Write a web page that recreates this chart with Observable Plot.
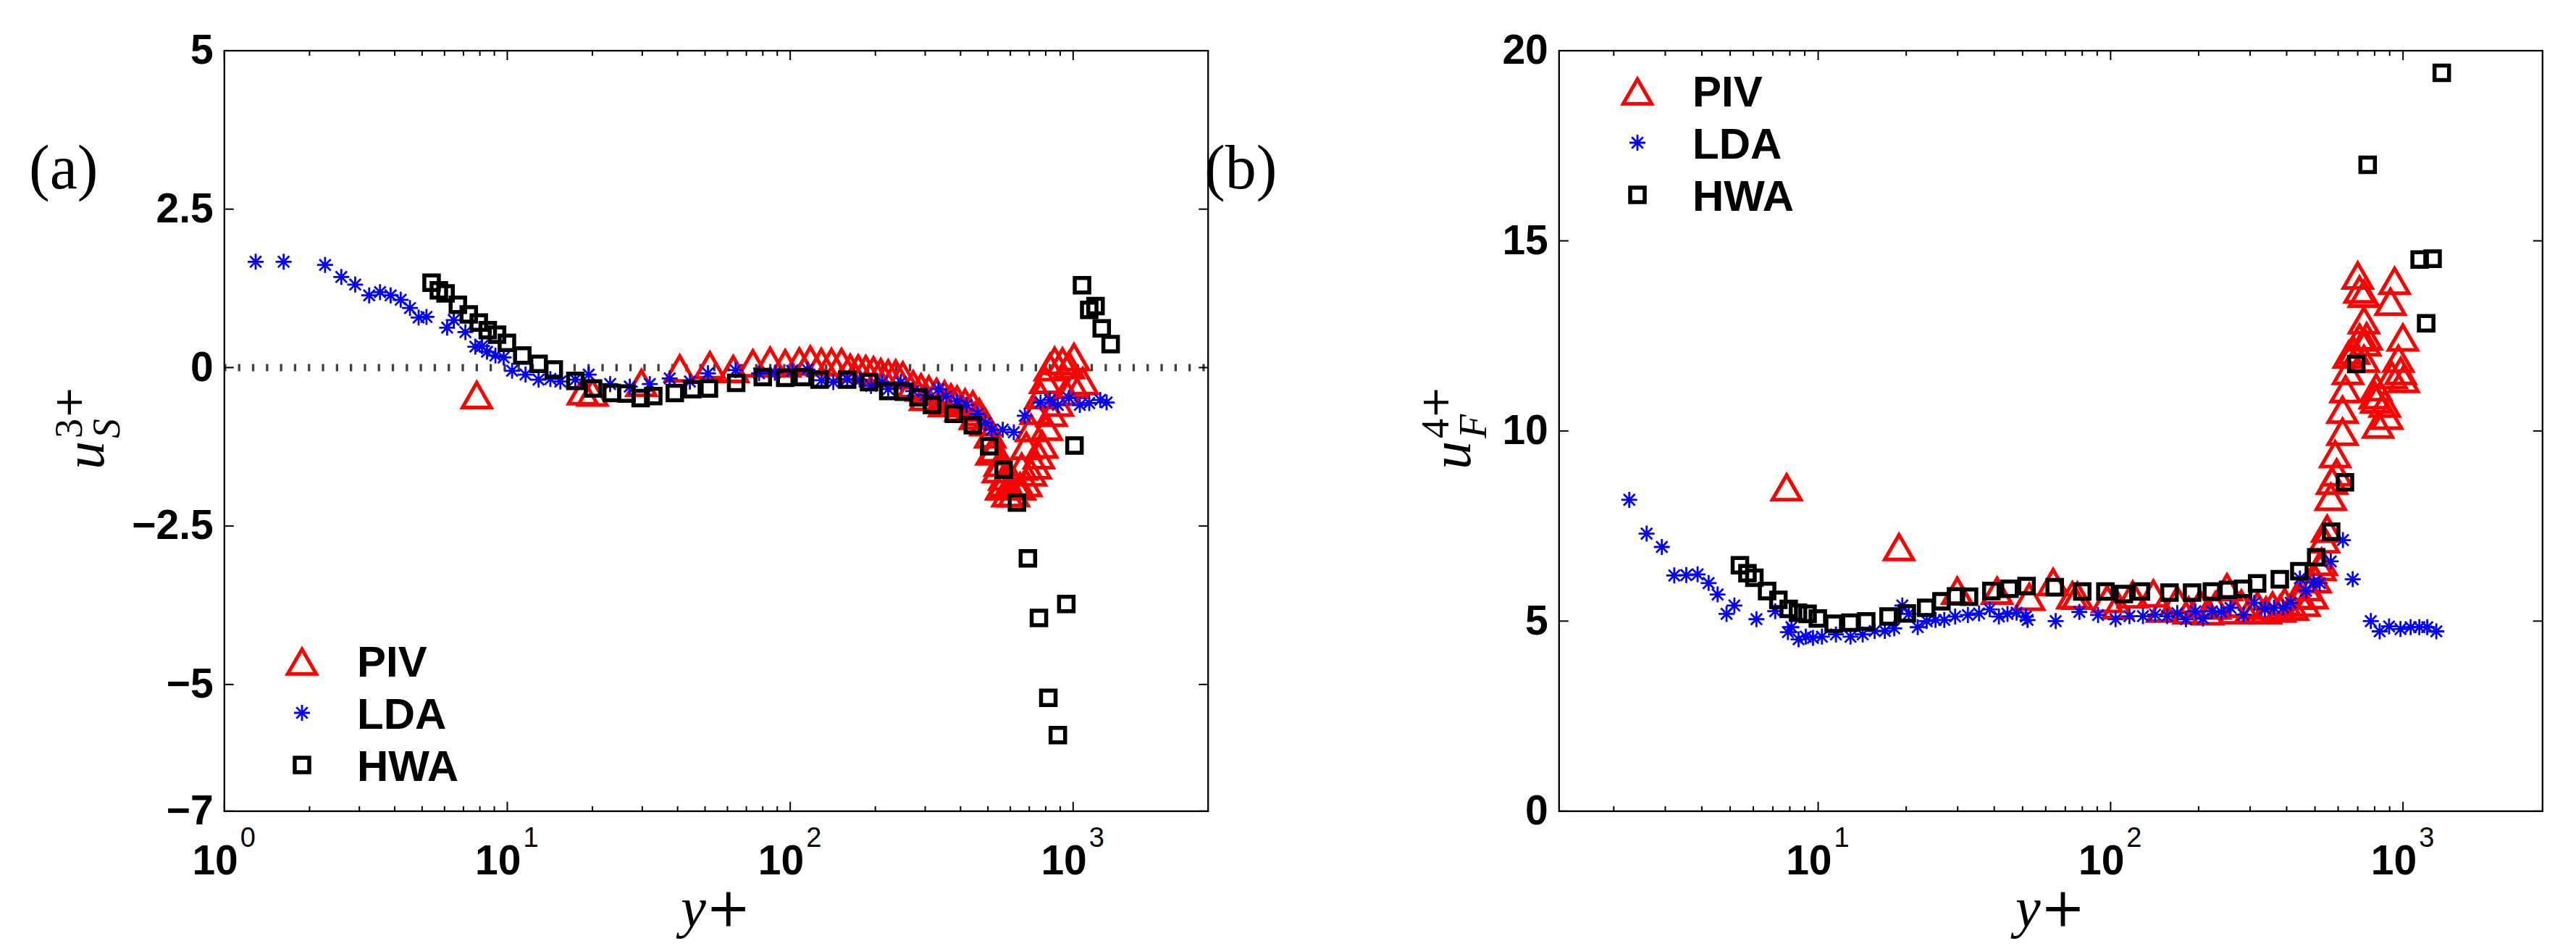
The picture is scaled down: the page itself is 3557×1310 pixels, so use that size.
<!DOCTYPE html>
<html><head><meta charset="utf-8">
<script src="https://cdn.jsdelivr.net/npm/d3@7"></script>
<script src="https://cdn.jsdelivr.net/npm/@observablehq/plot@0.6"></script>
<style>
html,body{margin:0;padding:0;background:#fff;}
#wrap{position:relative;width:3557px;height:1310px;background:#fff;overflow:hidden;}
</style></head><body><div id="wrap"></div>
<script>
// ---------------- DATA ----------------
// Panel (a): skewness u_S^{3+}
const pivS_y = [7.8,18.5,20.0,29.8,40.7,52.0,62.9,73.8,84.9,96.0,107.7,117.8,128.8,139.9,151.8,163,174,185,197,209,222,236,250,272,290,300,309,329,350,351,370,389,400,415,442,450,466,490,509,515,529,543,550,557,571,571,586,593,617,625,649,658,683,683,710,710,737,737,757,767,777,797,807,828,839,860,883,917,942,966,1002,1007,1083];
const pivS_u = [-0.42,-0.36,-0.38,-0.23,0,0.05,-0.01,0.08,0.12,0.08,0.11,0.14,0.10,0.10,0.10,0.01,0,-0.01,-0.03,-0.06,-0.08,-0.08,-0.11,-0.25,-0.30,-0.45,-0.33,-0.37,-0.55,-0.41,-0.46,-0.49,-0.62,-0.54,-0.57,-0.75,-0.69,-0.85,-1.04,-1.31,-1.26,-1.59,-1.49,-1.86,-1.71,-1.81,-1.97,-1.85,-1.97,-1.82,-1.86,-1.55,-1.22,-1.81,-0.94,-1.64,-0.67,-1.53,-1.37,-0.42,-1.20,-0.18,-0.92,0.02,-0.70,0.12,-0.54,0.11,-0.37,0.05,-0.26,0.18,-0.20];

const ldaS_y = [1.29,1.62,2.27,2.59,2.90,3.25,3.55,3.87,4.20,4.53,4.86,5.18,6.13,6.47,7.11,7.71,8.14,8.48,9.08,9.71,10.4,11.6,12.9,14.2,15.4,17.4,19.4,23.1,27.1,31.9,37.5,44.2,51.2,64.1,77.6,88.3,101.6,115,129,142,159,176,193,211,222,246,272,301,334,356,389,420,459,490,515,564,617,675,767,828,883,966,1056,1140,1247,1313];
const ldaS_u = [1.67,1.67,1.62,1.43,1.31,1.14,1.19,1.14,1.07,0.94,0.79,0.80,0.63,0.75,0.56,0.33,0.34,0.25,0.19,0.16,-0.05,-0.11,-0.19,-0.18,-0.22,-0.19,-0.11,-0.26,-0.30,-0.26,-0.17,-0.22,-0.09,-0.04,-0.09,-0.08,-0.05,-0.03,-0.20,-0.23,-0.18,-0.19,-0.29,-0.23,-0.34,-0.23,-0.37,-0.43,-0.34,-0.45,-0.53,-0.59,-0.73,-0.87,-0.98,-0.98,-1.02,-0.76,-0.55,-0.51,-0.59,-0.48,-0.59,-0.56,-0.51,-0.55];

// HWA: shared y+ positions, skewness and flatness (null = outside the flatness axis)
const hwa_y = [5.40,5.73,6.05,6.69,7.31,7.93,8.53,9.20,9.97,11.3,12.9,14.6,17.4,20.1,23.4,26.4,29.6,32.8,39.1,45.1,51.6,64.4,80.0,96,111,127,159,190,222,252,284,317,379,442,505,568,633,692,757,817,883,946,1011,1075,1140,1200,1262,1357];
const hwaS_u = [1.34,1.22,1.17,0.99,0.84,0.71,0.59,0.52,0.39,0.19,0.06,-0.03,-0.21,-0.33,-0.40,-0.41,-0.48,-0.45,-0.40,-0.34,-0.33,-0.24,-0.15,-0.16,-0.15,-0.19,-0.19,-0.23,-0.37,-0.38,-0.47,-0.59,-0.73,-0.91,-1.24,-1.61,-2.13,-3.01,-3.95,-5.21,-5.80,-3.73,-1.23,1.30,0.91,0.97,0.62,0.37];
const hwaF_u = [6.47,6.26,6.14,5.79,5.56,5.32,5.22,5.19,5.07,4.93,4.96,4.99,5.12,5.20,5.35,5.52,5.65,5.64,5.79,5.85,5.92,5.89,5.78,5.78,5.71,5.78,5.75,5.75,5.78,5.82,5.85,5.99,6.10,6.31,6.68,7.35,8.65,11.76,17.00,null,null,null,null,null,14.51,12.83,14.53,19.42];

// Panel (b): flatness u_F^{4+}
const pivF_y = [7.8,18.9,29.9,40.9,52.7,63.6,74.0,77.0,97.3,105.8,119,140,150,169,185,202,215,228,250,265,280,300,318,340,358,380,394,420,435,460,466,490,502,522,527,537,550,566,572,586,593,621,621,636,648,652,680,700,710,710,735,735,735,743,751,801,810,810,822,866,883,906,915,936,964,982,999,1005];
const pivF_u = [8.54,6.97,5.82,5.82,5.66,6.05,5.70,5.69,5.60,5.44,5.72,5.75,5.35,5.58,5.30,5.48,5.28,5.43,5.91,5.30,5.48,5.32,5.43,5.30,5.43,5.35,5.53,5.40,5.69,5.50,5.91,5.70,6.12,6.44,6.58,7.17,7.45,8.29,8.71,9.41,8.93,10.0,10.58,11.12,11.60,12.03,12.13,14.11,12.48,13.74,12.93,13.63,11.92,12.35,12.51,10.96,11.17,10.85,10.19,10.74,10.42,13.42,11.49,13.97,11.92,11.60,12.48,11.39];

const ldaF_y = [2.26,2.59,2.92,3.22,3.54,3.87,4.22,4.53,4.86,5.17,6.15,7.13,7.88,8.1,8.57,9.07,9.60,10.3,11.5,12.9,14.2,15.6,16.9,18.2,19.4,20.4,21.9,23.5,25.2,27.0,29.4,32.5,35.5,38.6,41.5,44.4,47.7,51.3,52,64.9,78.2,90.6,104,116,129,142,156,169,181,195,207,222,239,257,285,310,337,362,389,413,444,466,494,519,566,623,673,776,832,896,980,1062,1137,1210,1300];
const ldaF_u = [8.19,7.30,6.95,6.20,6.21,6.23,6.00,5.70,5.19,5.41,5.05,5.26,4.71,4.84,4.52,4.59,4.56,4.59,4.65,4.59,4.65,4.74,4.74,4.81,5.41,5.19,4.84,5.00,5.03,5.03,5.12,5.16,5.20,5.31,5.12,5.19,5.22,5.12,5.03,5.00,5.24,5.16,5.05,5.13,5.13,5.17,5.13,5.21,5.05,5.26,5.07,5.26,5.24,5.35,5.17,5.48,5.32,5.35,5.35,5.48,6.12,5.80,6.02,6.00,6.57,7.13,6.10,5.00,4.73,4.86,4.79,4.84,4.84,4.84,4.73];

// Axis ticks
const xMajorA = [1, 10, 100, 1000];
const xMajorB = [10, 100, 1000];
const xMinor = [2,3,4,5,6,7,8,9,20,30,40,50,60,70,80,90,200,300,400,500,600,700,800,900];
const yTicksA = [5, 2.5, 0, -2.5, -5, -7];
const yTicksB = [0, 5, 10, 15, 20];
const seriesNames = ["PIV", "LDA", "HWA"];

// ---------------- HELPERS ----------------
const zip = (xs, ys) => xs.slice(0, Math.min(xs.length, ys.length)).map((x, i) => ({x, v: ys[i]}));
const SANS = "'Liberation Sans', Arial, Helvetica, sans-serif";
const SERIF = "'Liberation Serif', 'Times New Roman', serif";
const H = 1310, MT = 69.5, MB = 1310 - 1119.3;

const seg = (dx, dy) => ({draw(ctx) { ctx.moveTo(0, 0); ctx.lineTo(dx, dy); }});
const asterisk = {draw(ctx) {
  const r = 11, d = 7.8;
  ctx.moveTo(0, -r); ctx.lineTo(0, r);
  ctx.moveTo(-r, 0); ctx.lineTo(r, 0);
  ctx.moveTo(-d, -d); ctx.lineTo(d, d);
  ctx.moveTo(-d, d); ctx.lineTo(d, -d);
}};
const TRI_R = 14.6, SQ_R = 11.3, TRI_DY = 6.9;
const triStyle = {symbol: "triangle", r: TRI_R, stroke: "#ff0000", strokeWidth: 5, fill: "none", dy: TRI_DY};
const starStyle = {symbol: asterisk, stroke: "#0000ff", strokeWidth: 2.8, fill: "none"};
const sqStyle = {symbol: "square", r: SQ_R, stroke: "#000", strokeWidth: 5.5, fill: "none"};
const fmtY = d => (d < 0 ? "\u2212" : "") + String(Math.abs(d));

function frameMarks(xDom, yDom, xMajor, yTicks) {
  const [x0, x1] = xDom, [y0, y1] = yDom;
  const minor = xMinor.filter(v => v > x0 && v < x1);
  const tk = (data, o) => Plot.dot(data, {fill: "none", stroke: "#000", strokeWidth: 2, ...o});
  return [
    tk(xMajor, {x: d => d, y: () => y0, symbol: seg(0, -13)}),
    tk(xMajor, {x: d => d, y: () => y1, symbol: seg(0, 13)}),
    tk(minor, {x: d => d, y: () => y0, symbol: seg(0, -7)}),
    tk(minor, {x: d => d, y: () => y1, symbol: seg(0, 7)}),
    tk(yTicks, {x: () => x0, y: d => d, symbol: seg(13, 0)}),
    tk(yTicks, {x: () => x1, y: d => d, symbol: seg(-13, 0)}),
    Plot.frame({stroke: "#000", strokeWidth: 2.3}),
    Plot.text(yTicks, {x: () => x0, y: d => d, text: fmtY, textAnchor: "end", dx: -15, lineAnchor: "middle",
      fontSize: 57, fontWeight: "bold", fontFamily: SANS, fill: "#000"}),
    Plot.text(xMajor, {x: d => d, y: () => y0, text: () => "10", textAnchor: "end", dx: 19, dy: 87.4,
      lineAnchor: "bottom", fontSize: 57, fontWeight: "bold", fontFamily: SANS, fill: "#000"}),
    Plot.text(xMajor, {x: d => d, y: () => y0, text: d => String(Math.round(Math.log10(d))), textAnchor: "start",
      dx: 22, dy: 49, lineAnchor: "bottom", fontSize: 38, fontFamily: SANS, fill: "#000"})
  ];
}

function makePanel({width, ml, mr, xDom, yDom, marks}) {
  return Plot.plot({
    width, height: H, marginTop: MT, marginBottom: MB, marginLeft: ml, marginRight: mr,
    x: {type: "log", domain: xDom, axis: null},
    y: {domain: yDom, axis: null},
    style: {maxWidth: "none", overflow: "visible", background: "transparent", fontFamily: SANS},
    marks
  });
}

function addLegend(svg, mx, tx, rows) {
  const s = d3.select(svg).append("g").attr("text-anchor", "start");
  s.append("path").attr("d", d3.symbol(d3.symbolTriangle, TRI_R * TRI_R * Math.PI)())
    .attr("transform", `translate(${mx},${rows[0] + TRI_DY})`).attr("fill", "none").attr("stroke", "#ff0000").attr("stroke-width", 5);
  s.append("path").attr("d", d3.symbol(asterisk, 100)())
    .attr("transform", `translate(${mx},${rows[1]})`).attr("fill", "none").attr("stroke", "#0000ff").attr("stroke-width", 2.8);
  s.append("path").attr("d", d3.symbol(d3.symbolSquare, SQ_R * SQ_R * Math.PI)())
    .attr("transform", `translate(${mx},${rows[2]})`).attr("fill", "none").attr("stroke", "#000").attr("stroke-width", 5.5);
  seriesNames.forEach((n, i) => {
    s.append("text").attr("x", tx).attr("y", rows[i] + 22).attr("text-anchor", "start").attr("font-family", SANS)
      .attr("font-weight", "bold").attr("font-size", 60).attr("fill", "#000").text(n);
  });
}

function addXLabel(svg, cx) {
  const t = d3.select(svg).append("text").attr("x", cx).attr("y", 1279).attr("text-anchor", "middle").attr("fill", "#000");
  t.append("tspan").attr("font-family", SERIF).attr("font-style", "italic").attr("font-size", 78).text("y");
  t.append("tspan").attr("font-family", "'DejaVu Serif', serif").attr("font-size", 74).text("+");
}

function addYLabel(svg, bx, by, sub, sup) {
  const g = d3.select(svg).append("g").attr("transform", `translate(${bx},${by}) rotate(-90)`)
    .attr("fill", "#000").attr("text-anchor", "start");
  g.append("text").attr("x", 0).attr("y", 0).attr("text-anchor", "start").attr("font-family", SERIF)
    .attr("font-style", "italic").attr("font-size", 78).text("u");
  g.append("text").attr("x", 43).attr("y", 22).attr("text-anchor", "start").attr("font-family", SERIF)
    .attr("font-style", "italic").attr("font-size", 54).text(sub);
  const t = g.append("text").attr("x", 43).attr("y", -30).attr("text-anchor", "start").attr("font-size", 54);
  t.append("tspan").attr("font-family", SERIF).text(sup);
  t.append("tspan").attr("font-family", "'DejaVu Serif', serif").text("+");
}

function addPanelLabel(svg, x, txt) {
  d3.select(svg).append("text").attr("x", x).attr("y", 260).attr("text-anchor", "start")
    .attr("font-family", SERIF).attr("font-size", 86).attr("fill", "#000").text(txt);
}

// ---------------- PANEL (a) ----------------
const xDomA = [1, 3000], yDomA = [-7, 5];
const svgA = makePanel({
  width: 1780, ml: 309.3, mr: 1780 - 1667.7, xDom: xDomA, yDom: yDomA,
  marks: [
    Plot.ruleY([0], {stroke: "#404040", strokeWidth: 10, strokeDasharray: "3.3,16"}),
    Plot.dot(zip(pivS_y, pivS_u), {x: "x", y: "v", ...triStyle}),
    Plot.dot(zip(ldaS_y, ldaS_u), {x: "x", y: "v", ...starStyle}),
    Plot.dot(zip(hwa_y, hwaS_u), {x: "x", y: "v", ...sqStyle}),
    ...frameMarks(xDomA, yDomA, xMajorA, yTicksA)
  ]
});
svgA.style.position = "absolute"; svgA.style.left = "0px"; svgA.style.top = "0px";
document.getElementById("wrap").appendChild(svgA);
addLegend(svgA, 417, 493, [912, 984, 1056]);
addXLabel(svgA, (309.3 + 1667.7) / 2);
addYLabel(svgA, 143, 648, "S", "3");
addPanelLabel(svgA, 40, "(a)");
addPanelLabel(svgA, 1663, "(b)");

// ---------------- PANEL (b) ----------------
const OFF = 1780;
const xDomB = [1.3, 3000], yDomB = [0, 20];
const svgB = makePanel({
  width: 1777, ml: 2152.3 - OFF, mr: 1777 - (3510.3 - OFF), xDom: xDomB, yDom: yDomB,
  marks: [
    Plot.dot(zip(pivF_y, pivF_u), {x: "x", y: "v", ...triStyle}),
    Plot.dot(zip(ldaF_y, ldaF_u), {x: "x", y: "v", ...starStyle}),
    Plot.dot(zip(hwa_y, hwaF_u), {x: "x", y: "v", ...sqStyle}),
    ...frameMarks(xDomB, yDomB, xMajorB, yTicksB)
  ]
});
svgB.style.position = "absolute"; svgB.style.left = OFF + "px"; svgB.style.top = "0px";
document.getElementById("wrap").appendChild(svgB);
addLegend(svgB, 2261 - OFF, 2337 - OFF, [125, 197, 269]);
addXLabel(svgB, (2152.3 + 3510.3) / 2 - OFF);
addYLabel(svgB, 2030 - OFF, 648, "F", "4");
</script></body></html>
